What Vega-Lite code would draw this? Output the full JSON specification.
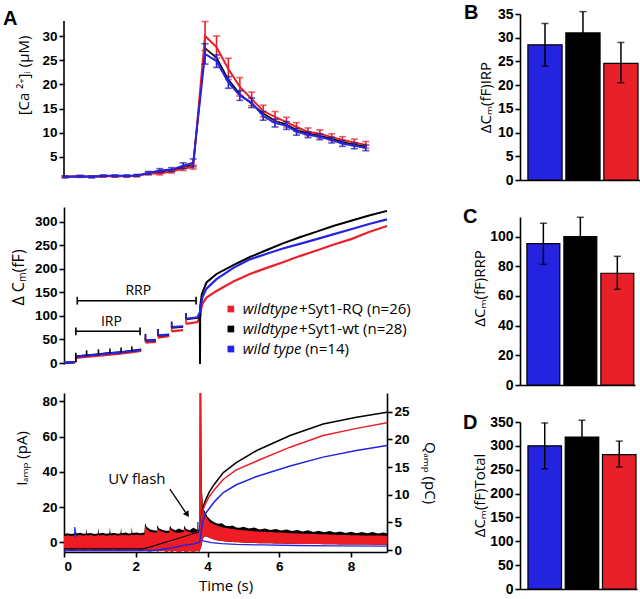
{
"$schema":"https://vega.github.io/schema/vega-lite/v6.json",
"background":"white",
"padding":{"left":3,"top":3,"right":2,"bottom":2},
"config":{
 "view":{"stroke":null},
 "font":"Open Sans",
 "axis":{"domainColor":"black","domainWidth":1.6,"tickColor":"black","tickWidth":1.6,"tickSize":5,"labelColor":"black","labelFont":"Liberation Sans","labelFontWeight":"bold","labelFontSize":13.5,"labelPadding":2,"titleFont":"Open Sans","titleFontWeight":"normal","titleFontSize":15,"titleColor":"black","grid":false},
 "title":{"font":"Liberation Sans","fontSize":20,"fontWeight":"bold","anchor":"start","frame":"group","color":"black","offset":0}
},
"datasets":{
 "ca":[
  {"g":"WT","t":0.03,"v":0.9,"lo":0.7,"hi":1.1},{"g":"WT","t":0.45,"v":1.0,"lo":0.8,"hi":1.2},{"g":"WT","t":0.77,"v":0.9,"lo":0.7,"hi":1.1},{"g":"WT","t":1.09,"v":1.1,"lo":0.9,"hi":1.3},{"g":"WT","t":1.42,"v":1.1,"lo":0.9,"hi":1.3},{"g":"WT","t":1.75,"v":1.1,"lo":0.9,"hi":1.3},{"g":"WT","t":2.03,"v":1.2,"lo":1.0,"hi":1.4},{"g":"WT","t":2.35,"v":1.7,"lo":1.4,"hi":2.0},{"g":"WT","t":2.67,"v":2.2,"lo":1.8,"hi":2.6},{"g":"WT","t":3.0,"v":2.4,"lo":2.0,"hi":2.8},{"g":"WT","t":3.32,"v":3.2,"lo":2.6,"hi":3.8},{"g":"WT","t":3.6,"v":3.8,"lo":3.0,"hi":4.6},{"g":"WT","t":3.93,"v":26.3,"lo":24.2,"hi":28.4},{"g":"WT","t":4.25,"v":24.8,"lo":23.5,"hi":26.1},{"g":"WT","t":4.58,"v":20.4,"lo":19.2,"hi":21.6},{"g":"WT","t":4.9,"v":17.7,"lo":16.7,"hi":18.7},{"g":"WT","t":5.23,"v":16.2,"lo":15.2,"hi":17.2},{"g":"WT","t":5.55,"v":13.5,"lo":12.6,"hi":14.4},{"g":"WT","t":5.88,"v":12.0,"lo":11.2,"hi":12.8},{"g":"WT","t":6.2,"v":11.5,"lo":10.7,"hi":12.3},{"g":"WT","t":6.48,"v":10.2,"lo":9.5,"hi":10.9},{"g":"WT","t":6.8,"v":9.6,"lo":9.0,"hi":10.2},{"g":"WT","t":7.13,"v":9.2,"lo":8.6,"hi":9.8},{"g":"WT","t":7.46,"v":8.5,"lo":7.9,"hi":9.1},{"g":"WT","t":7.76,"v":7.8,"lo":7.2,"hi":8.4},{"g":"WT","t":8.09,"v":7.3,"lo":6.7,"hi":7.9},{"g":"WT","t":8.41,"v":6.9,"lo":6.3,"hi":7.5},
  {"g":"Syt1-RQ","t":0.03,"v":0.9,"lo":0.75,"hi":1.05},{"g":"Syt1-RQ","t":0.45,"v":1.0,"lo":0.85,"hi":1.15},{"g":"Syt1-RQ","t":0.77,"v":0.9,"lo":0.75,"hi":1.05},{"g":"Syt1-RQ","t":1.09,"v":1.0,"lo":0.85,"hi":1.15},{"g":"Syt1-RQ","t":1.42,"v":1.0,"lo":0.85,"hi":1.15},{"g":"Syt1-RQ","t":1.75,"v":1.0,"lo":0.85,"hi":1.15},{"g":"Syt1-RQ","t":2.03,"v":1.1,"lo":0.9,"hi":1.3},{"g":"Syt1-RQ","t":2.35,"v":1.6,"lo":1.3,"hi":1.9},{"g":"Syt1-RQ","t":2.67,"v":1.6,"lo":1.3,"hi":1.9},{"g":"Syt1-RQ","t":3.0,"v":2.0,"lo":1.7,"hi":2.3},{"g":"Syt1-RQ","t":3.32,"v":2.6,"lo":2.2,"hi":3.0},{"g":"Syt1-RQ","t":3.6,"v":2.9,"lo":2.5,"hi":3.3},{"g":"Syt1-RQ","t":3.93,"v":30.0,"lo":27.0,"hi":33.0},{"g":"Syt1-RQ","t":4.25,"v":27.7,"lo":25.4,"hi":30.0},{"g":"Syt1-RQ","t":4.58,"v":23.2,"lo":21.0,"hi":25.4},{"g":"Syt1-RQ","t":4.9,"v":19.5,"lo":17.6,"hi":21.4},{"g":"Syt1-RQ","t":5.23,"v":17.0,"lo":15.6,"hi":18.4},{"g":"Syt1-RQ","t":5.55,"v":14.5,"lo":13.3,"hi":15.7},{"g":"Syt1-RQ","t":5.88,"v":13.3,"lo":12.2,"hi":14.4},{"g":"Syt1-RQ","t":6.2,"v":12.2,"lo":11.2,"hi":13.2},{"g":"Syt1-RQ","t":6.48,"v":11.2,"lo":10.3,"hi":12.1},{"g":"Syt1-RQ","t":6.8,"v":10.2,"lo":9.4,"hi":11.0},{"g":"Syt1-RQ","t":7.13,"v":9.8,"lo":9.0,"hi":10.6},{"g":"Syt1-RQ","t":7.46,"v":9.1,"lo":8.4,"hi":9.8},{"g":"Syt1-RQ","t":7.76,"v":8.5,"lo":7.8,"hi":9.2},{"g":"Syt1-RQ","t":8.09,"v":8.0,"lo":7.3,"hi":8.7},{"g":"Syt1-RQ","t":8.41,"v":7.5,"lo":6.8,"hi":8.2},
  {"g":"Syt1-wt","t":0.03,"v":0.9},{"g":"Syt1-wt","t":0.45,"v":1.0},{"g":"Syt1-wt","t":0.77,"v":0.9},{"g":"Syt1-wt","t":1.09,"v":1.05},{"g":"Syt1-wt","t":1.42,"v":1.05},{"g":"Syt1-wt","t":1.75,"v":1.05},{"g":"Syt1-wt","t":2.03,"v":1.15},{"g":"Syt1-wt","t":2.35,"v":1.6},{"g":"Syt1-wt","t":2.67,"v":2.0},{"g":"Syt1-wt","t":3.0,"v":2.2},{"g":"Syt1-wt","t":3.32,"v":2.9},{"g":"Syt1-wt","t":3.6,"v":3.4},{"g":"Syt1-wt","t":3.93,"v":27.5},{"g":"Syt1-wt","t":4.25,"v":25.5},{"g":"Syt1-wt","t":4.58,"v":21.0},{"g":"Syt1-wt","t":4.9,"v":18.0},{"g":"Syt1-wt","t":5.23,"v":16.0},{"g":"Syt1-wt","t":5.55,"v":14.0},{"g":"Syt1-wt","t":5.88,"v":12.5},{"g":"Syt1-wt","t":6.2,"v":11.7},{"g":"Syt1-wt","t":6.48,"v":10.6},{"g":"Syt1-wt","t":6.8,"v":9.9},{"g":"Syt1-wt","t":7.13,"v":9.4},{"g":"Syt1-wt","t":7.46,"v":8.8},{"g":"Syt1-wt","t":7.76,"v":8.1},{"g":"Syt1-wt","t":8.09,"v":7.6},{"g":"Syt1-wt","t":8.41,"v":7.2}
 ],
 "cm":[
  {"g":"Syt1-RQ","s":0,"t":0,"v":0.5},{"g":"Syt1-RQ","s":0,"t":0.3,"v":1.5},
  {"g":"Syt1-RQ","s":1,"t":0.33,"v":11},{"g":"Syt1-RQ","s":1,"t":0.6,"v":13},{"g":"Syt1-RQ","s":1,"t":0.9,"v":15},{"g":"Syt1-RQ","s":1,"t":1.2,"v":17},{"g":"Syt1-RQ","s":1,"t":1.5,"v":19.5},{"g":"Syt1-RQ","s":1,"t":1.8,"v":22},{"g":"Syt1-RQ","s":1,"t":2.15,"v":25.5},
  {"g":"Syt1-RQ","s":2,"t":2.27,"v":43},{"g":"Syt1-RQ","s":2,"t":2.56,"v":45},
  {"g":"Syt1-RQ","s":3,"t":2.62,"v":54},{"g":"Syt1-RQ","s":3,"t":2.93,"v":57},
  {"g":"Syt1-RQ","s":4,"t":3.0,"v":67},{"g":"Syt1-RQ","s":4,"t":3.32,"v":70},
  {"g":"Syt1-RQ","s":5,"t":3.4,"v":83},{"g":"Syt1-RQ","s":5,"t":3.72,"v":87},{"g":"Syt1-RQ","s":5,"t":3.8,"v":100},{"g":"Syt1-RQ","s":5,"t":3.82,"v":115},{"g":"Syt1-RQ","s":5,"t":3.86,"v":126},{"g":"Syt1-RQ","s":5,"t":3.97,"v":139},{"g":"Syt1-RQ","s":5,"t":4.25,"v":153},{"g":"Syt1-RQ","s":5,"t":4.72,"v":173},{"g":"Syt1-RQ","s":5,"t":5.18,"v":189},{"g":"Syt1-RQ","s":5,"t":5.65,"v":202},{"g":"Syt1-RQ","s":5,"t":6.1,"v":214},{"g":"Syt1-RQ","s":5,"t":6.57,"v":227},{"g":"Syt1-RQ","s":5,"t":7.04,"v":239},{"g":"Syt1-RQ","s":5,"t":7.5,"v":251},{"g":"Syt1-RQ","s":5,"t":8.0,"v":263},{"g":"Syt1-RQ","s":5,"t":8.5,"v":278},{"g":"Syt1-RQ","s":5,"t":9.0,"v":291},
  {"g":"Syt1-wt","s":0,"t":0,"v":0},{"g":"Syt1-wt","s":0,"t":0.3,"v":1.5},
  {"g":"Syt1-wt","s":1,"t":0.33,"v":14},{"g":"Syt1-wt","s":1,"t":0.6,"v":16},{"g":"Syt1-wt","s":1,"t":0.9,"v":18},{"g":"Syt1-wt","s":1,"t":1.2,"v":20.5},{"g":"Syt1-wt","s":1,"t":1.5,"v":22.5},{"g":"Syt1-wt","s":1,"t":1.8,"v":25},{"g":"Syt1-wt","s":1,"t":2.15,"v":28.5},
  {"g":"Syt1-wt","s":2,"t":2.27,"v":47},{"g":"Syt1-wt","s":2,"t":2.56,"v":48.5},
  {"g":"Syt1-wt","s":3,"t":2.62,"v":58},{"g":"Syt1-wt","s":3,"t":2.93,"v":60},
  {"g":"Syt1-wt","s":4,"t":3.0,"v":75},{"g":"Syt1-wt","s":4,"t":3.32,"v":77},
  {"g":"Syt1-wt","s":5,"t":3.4,"v":93},{"g":"Syt1-wt","s":5,"t":3.72,"v":96},{"g":"Syt1-wt","s":5,"t":3.785,"v":96},{"g":"Syt1-wt","s":5,"t":3.79,"v":-2},{"g":"Syt1-wt","s":5,"t":3.795,"v":120},{"g":"Syt1-wt","s":5,"t":3.84,"v":146},{"g":"Syt1-wt","s":5,"t":3.97,"v":171},{"g":"Syt1-wt","s":5,"t":4.25,"v":189},{"g":"Syt1-wt","s":5,"t":4.72,"v":208},{"g":"Syt1-wt","s":5,"t":5.18,"v":225},{"g":"Syt1-wt","s":5,"t":5.65,"v":240},{"g":"Syt1-wt","s":5,"t":6.1,"v":254},{"g":"Syt1-wt","s":5,"t":6.57,"v":267},{"g":"Syt1-wt","s":5,"t":7.04,"v":279},{"g":"Syt1-wt","s":5,"t":7.5,"v":291},{"g":"Syt1-wt","s":5,"t":8.0,"v":302},{"g":"Syt1-wt","s":5,"t":8.5,"v":313},{"g":"Syt1-wt","s":5,"t":9.0,"v":323},
  {"g":"WT","s":0,"t":0,"v":1},{"g":"WT","s":0,"t":0.3,"v":2},
  {"g":"WT","s":1,"t":0.33,"v":13.5},{"g":"WT","s":1,"t":0.6,"v":15.5},{"g":"WT","s":1,"t":0.9,"v":17.5},{"g":"WT","s":1,"t":1.2,"v":20},{"g":"WT","s":1,"t":1.5,"v":22},{"g":"WT","s":1,"t":1.8,"v":24.5},{"g":"WT","s":1,"t":2.15,"v":28},
  {"g":"WT","s":2,"t":2.27,"v":47.5},{"g":"WT","s":2,"t":2.56,"v":49},
  {"g":"WT","s":3,"t":2.62,"v":58.5},{"g":"WT","s":3,"t":2.93,"v":60.5},
  {"g":"WT","s":4,"t":3.0,"v":76},{"g":"WT","s":4,"t":3.32,"v":78},
  {"g":"WT","s":5,"t":3.4,"v":94},{"g":"WT","s":5,"t":3.72,"v":97},{"g":"WT","s":5,"t":3.8,"v":110},{"g":"WT","s":5,"t":3.82,"v":125},{"g":"WT","s":5,"t":3.86,"v":140},{"g":"WT","s":5,"t":3.97,"v":158},{"g":"WT","s":5,"t":4.25,"v":178},{"g":"WT","s":5,"t":4.72,"v":202},{"g":"WT","s":5,"t":5.18,"v":220},{"g":"WT","s":5,"t":5.65,"v":232},{"g":"WT","s":5,"t":6.1,"v":243},{"g":"WT","s":5,"t":6.57,"v":253},{"g":"WT","s":5,"t":7.04,"v":263},{"g":"WT","s":5,"t":7.5,"v":273},{"g":"WT","s":5,"t":8.0,"v":284},{"g":"WT","s":5,"t":8.5,"v":295},{"g":"WT","s":5,"t":9.0,"v":305}
 ],
 "cmt":[
  {"g":"Syt1-RQ","t":0.33,"v0":1,"v1":16},{"g":"Syt1-RQ","t":2.27,"v0":43,"v1":56},{"g":"Syt1-RQ","t":2.62,"v0":54,"v1":67},{"g":"Syt1-RQ","t":3.0,"v0":67,"v1":80},{"g":"Syt1-RQ","t":3.4,"v0":83,"v1":97},
  {"g":"Syt1-wt","t":0.33,"v0":1.5,"v1":22},{"g":"Syt1-wt","t":0.63,"v0":15.5,"v1":27},{"g":"Syt1-wt","t":0.96,"v0":17.5,"v1":29},{"g":"Syt1-wt","t":1.28,"v0":20.5,"v1":31},{"g":"Syt1-wt","t":1.59,"v0":22.5,"v1":33},{"g":"Syt1-wt","t":1.89,"v0":25,"v1":35},{"g":"Syt1-wt","t":2.27,"v0":47,"v1":62},{"g":"Syt1-wt","t":2.62,"v0":58,"v1":72},{"g":"Syt1-wt","t":3.0,"v0":75,"v1":88},{"g":"Syt1-wt","t":3.4,"v0":93,"v1":106},
  {"g":"WT","t":2.27,"v0":47.5,"v1":60},{"g":"WT","t":2.62,"v0":58.5,"v1":70},{"g":"WT","t":3.0,"v0":76,"v1":86},{"g":"WT","t":3.4,"v0":94,"v1":104}
 ],
 "cur":[
  {"t":0,"lo":-4,"hi":3.5,"top":4.6},{"t":0.1,"lo":-3.8,"hi":4,"top":5.1},{"t":0.2,"lo":-4.2,"hi":3.6,"top":4.7},{"t":0.315,"lo":-4,"hi":4,"top":5.2},{"t":0.33,"lo":-4,"hi":4.4,"top":8.4},{"t":0.345,"lo":-4,"hi":3.8,"top":5},{"t":0.45,"lo":-3.6,"hi":4.2,"top":5.4},{"t":0.55,"lo":-4.1,"hi":3.7,"top":4.8},{"t":0.615,"lo":-4,"hi":4,"top":5},{"t":0.63,"lo":-4,"hi":4.4,"top":8},{"t":0.645,"lo":-4,"hi":3.9,"top":5},{"t":0.75,"lo":-3.7,"hi":4.1,"top":5.3},{"t":0.85,"lo":-4.2,"hi":3.6,"top":4.7},{"t":0.945,"lo":-4,"hi":4,"top":5},{"t":0.96,"lo":-4,"hi":4.5,"top":8.2},{"t":0.975,"lo":-4,"hi":3.8,"top":5},{"t":1.08,"lo":-3.9,"hi":4.2,"top":5.4},{"t":1.18,"lo":-4.1,"hi":3.7,"top":4.8},{"t":1.265,"lo":-4,"hi":4,"top":5.1},{"t":1.28,"lo":-4,"hi":4.4,"top":8.6},{"t":1.295,"lo":-4,"hi":3.9,"top":5.1},{"t":1.4,"lo":-3.8,"hi":4.1,"top":5.3},{"t":1.5,"lo":-4.2,"hi":3.8,"top":4.9},{"t":1.575,"lo":-4,"hi":4,"top":5.1},{"t":1.59,"lo":-4,"hi":4.5,"top":8.3},{"t":1.605,"lo":-4,"hi":4,"top":5.2},{"t":1.72,"lo":-3.9,"hi":4.2,"top":5.5},{"t":1.8,"lo":-4.1,"hi":3.9,"top":5},{"t":1.875,"lo":-4,"hi":4.1,"top":5.2},{"t":1.89,"lo":-4,"hi":4.6,"top":8.8},{"t":1.905,"lo":-4,"hi":4,"top":5.3},{"t":2.02,"lo":-3.8,"hi":4.3,"top":5.6},{"t":2.12,"lo":-4.2,"hi":4,"top":5.2},{"t":2.24,"lo":-4,"hi":4.2,"top":5.5},{"t":2.26,"lo":-4.6,"hi":9.5,"top":11},{"t":2.3,"lo":-5,"hi":7.5,"top":8.8},{"t":2.4,"lo":-5.2,"hi":6,"top":7.2},{"t":2.5,"lo":-4.8,"hi":5.5,"top":6.8},{"t":2.585,"lo":-5,"hi":5.4,"top":6.6},{"t":2.6,"lo":-5.5,"hi":8.5,"top":10},{"t":2.64,"lo":-5,"hi":6.8,"top":8},{"t":2.75,"lo":-4.6,"hi":5.8,"top":7},{"t":2.85,"lo":-5.3,"hi":5.2,"top":6.5},{"t":2.935,"lo":-5,"hi":5.4,"top":6.6},{"t":2.95,"lo":-5,"hi":8.2,"top":9.6},{"t":3.0,"lo":-5.4,"hi":6.6,"top":7.8},{"t":3.1,"lo":-4.8,"hi":5.6,"top":6.8},{"t":3.2,"lo":-5.6,"hi":5.3,"top":7.8},{"t":3.3,"lo":-5,"hi":5.8,"top":7},{"t":3.335,"lo":-5,"hi":5.6,"top":6.8},{"t":3.35,"lo":-5.2,"hi":8,"top":9.5},{"t":3.4,"lo":-5.5,"hi":6.4,"top":7.6},{"t":3.5,"lo":-4.9,"hi":5.7,"top":6.9},{"t":3.6,"lo":-5.4,"hi":5.4,"top":8.3},{"t":3.7,"lo":-5,"hi":6,"top":7.2},{"t":3.77,"lo":-5.2,"hi":6.2,"top":7.4},
  {"t":3.78,"lo":-5,"hi":95,"top":95},{"t":3.82,"lo":-3,"hi":95,"top":95},{"t":3.84,"lo":-1,"hi":30,"top":31},{"t":3.87,"lo":2,"hi":20,"top":21.5},{"t":3.9,"lo":3,"hi":17,"top":18.5},{"t":3.95,"lo":3.5,"hi":15,"top":16.5},{"t":4.0,"lo":3,"hi":13,"top":14.5},{"t":4.1,"lo":2.2,"hi":11,"top":12.5},{"t":4.2,"lo":1.5,"hi":10,"top":11.3},{"t":4.3,"lo":1,"hi":9.2,"top":10.5},{"t":4.4,"lo":0.8,"hi":8.6,"top":10.8},{"t":4.5,"lo":0.5,"hi":8.2,"top":9.4},{"t":4.6,"lo":0.3,"hi":7.8,"top":9.1},{"t":4.7,"lo":0.2,"hi":7.5,"top":9.6},{"t":4.8,"lo":0,"hi":7.2,"top":8.4},{"t":4.9,"lo":0,"hi":7,"top":8.3},{"t":5.0,"lo":-0.2,"hi":6.8,"top":8.8},{"t":5.15,"lo":-0.3,"hi":6.6,"top":7.8},{"t":5.3,"lo":-0.4,"hi":6.3,"top":8.4},{"t":5.45,"lo":-0.5,"hi":6.1,"top":7.3},{"t":5.6,"lo":-0.5,"hi":5.9,"top":7.9},{"t":5.75,"lo":-0.6,"hi":5.8,"top":7},{"t":5.9,"lo":-0.7,"hi":5.6,"top":7.6},{"t":6.05,"lo":-0.7,"hi":5.5,"top":6.7},{"t":6.2,"lo":-0.8,"hi":5.3,"top":7.3},{"t":6.35,"lo":-0.8,"hi":5.2,"top":6.4},{"t":6.5,"lo":-0.9,"hi":5,"top":7},{"t":6.65,"lo":-0.9,"hi":4.9,"top":6.1},{"t":6.8,"lo":-1,"hi":4.8,"top":6.8},{"t":6.95,"lo":-1,"hi":4.7,"top":5.9},{"t":7.1,"lo":-1,"hi":4.6,"top":6.6},{"t":7.25,"lo":-1.1,"hi":4.5,"top":5.7},{"t":7.4,"lo":-1.1,"hi":4.4,"top":6.4},{"t":7.55,"lo":-1.1,"hi":4.3,"top":5.5},{"t":7.7,"lo":-1.2,"hi":4.2,"top":6.2},{"t":7.85,"lo":-1.2,"hi":4.1,"top":5.3},{"t":8.0,"lo":-1.2,"hi":4,"top":6},{"t":8.15,"lo":-1.3,"hi":4,"top":5.2},{"t":8.3,"lo":-1.3,"hi":3.9,"top":5.9},{"t":8.45,"lo":-1.3,"hi":3.9,"top":5.1},{"t":8.6,"lo":-1.4,"hi":3.8,"top":5.8},{"t":8.75,"lo":-1.4,"hi":3.8,"top":5},{"t":8.9,"lo":-1.4,"hi":3.7,"top":5.6},{"t":9.0,"lo":-1.4,"hi":3.7,"top":5}
 ],
 "curb":[{"t":3.85,"v":1},{"t":3.95,"v":0.5},{"t":4.1,"v":-0.2},{"t":4.4,"v":-0.8},{"t":4.8,"v":-1.2},{"t":5.5,"v":-1.5},{"t":6.5,"v":-1.8},{"t":7.5,"v":-2},{"t":9,"v":-2.2}],
 "spk":[{"t":0.3,"lo":3,"hi":8.7},{"t":3.73,"lo":4,"hi":11.5}],
 "q":[
  {"g":"Syt1-wt","t":0,"q":0.2},{"g":"Syt1-wt","t":2.2,"q":0.2},{"g":"Syt1-wt","t":2.4,"q":0.5},{"g":"Syt1-wt","t":2.6,"q":0.9},{"g":"Syt1-wt","t":2.8,"q":1.3},{"g":"Syt1-wt","t":3.0,"q":1.7},{"g":"Syt1-wt","t":3.2,"q":2.1},{"g":"Syt1-wt","t":3.4,"q":2.5},{"g":"Syt1-wt","t":3.6,"q":2.9},{"g":"Syt1-wt","t":3.78,"q":3.2},{"g":"Syt1-wt","t":3.82,"q":5.5},{"g":"Syt1-wt","t":3.86,"q":7.5},{"g":"Syt1-wt","t":3.93,"q":8.8},{"g":"Syt1-wt","t":4.05,"q":10.5},{"g":"Syt1-wt","t":4.2,"q":12},{"g":"Syt1-wt","t":4.44,"q":14},{"g":"Syt1-wt","t":4.8,"q":15.8},{"g":"Syt1-wt","t":5.37,"q":18},{"g":"Syt1-wt","t":6.3,"q":20.7},{"g":"Syt1-wt","t":7.22,"q":22.8},{"g":"Syt1-wt","t":8.15,"q":24},{"g":"Syt1-wt","t":9,"q":24.9},
  {"g":"Syt1-RQ","t":0,"q":-0.1},{"g":"Syt1-RQ","t":2.2,"q":-0.1},{"g":"Syt1-RQ","t":2.4,"q":0.3},{"g":"Syt1-RQ","t":2.6,"q":0.7},{"g":"Syt1-RQ","t":2.8,"q":1.1},{"g":"Syt1-RQ","t":3.0,"q":1.5},{"g":"Syt1-RQ","t":3.2,"q":1.9},{"g":"Syt1-RQ","t":3.4,"q":2.3},{"g":"Syt1-RQ","t":3.6,"q":2.7},{"g":"Syt1-RQ","t":3.78,"q":3.0},{"g":"Syt1-RQ","t":3.82,"q":5.2},{"g":"Syt1-RQ","t":3.86,"q":7},{"g":"Syt1-RQ","t":3.93,"q":8.2},{"g":"Syt1-RQ","t":4.05,"q":9.7},{"g":"Syt1-RQ","t":4.2,"q":11},{"g":"Syt1-RQ","t":4.44,"q":12.8},{"g":"Syt1-RQ","t":4.8,"q":14.5},{"g":"Syt1-RQ","t":5.37,"q":16.1},{"g":"Syt1-RQ","t":6.3,"q":18.6},{"g":"Syt1-RQ","t":7.22,"q":20.7},{"g":"Syt1-RQ","t":8.15,"q":22},{"g":"Syt1-RQ","t":9,"q":23},
  {"g":"WT","t":0,"q":-0.1},{"g":"WT","t":2.5,"q":-0.1},{"g":"WT","t":2.8,"q":0.2},{"g":"WT","t":3.1,"q":0.5},{"g":"WT","t":3.4,"q":0.9},{"g":"WT","t":3.6,"q":1.1},{"g":"WT","t":3.78,"q":1.4},{"g":"WT","t":3.82,"q":3},{"g":"WT","t":3.86,"q":5},{"g":"WT","t":3.93,"q":6.5},{"g":"WT","t":4.07,"q":7.7},{"g":"WT","t":4.2,"q":8.8},{"g":"WT","t":4.44,"q":10.4},{"g":"WT","t":4.8,"q":11.8},{"g":"WT","t":5.37,"q":13.3},{"g":"WT","t":6.3,"q":15.2},{"g":"WT","t":7.22,"q":16.8},{"g":"WT","t":8.15,"q":18},{"g":"WT","t":9,"q":18.9}
 ],
 "bars":[
  {"p":"B","g":"WT","m":28.5,"lo":24,"hi":33},{"p":"B","g":"Syt1-wt","m":31,"lo":26.5,"hi":35.5},{"p":"B","g":"Syt1-RQ","m":24.6,"lo":20.5,"hi":29},
  {"p":"C","g":"WT","m":95.3,"lo":81.3,"hi":109},{"p":"C","g":"Syt1-wt","m":100,"lo":87,"hi":113},{"p":"C","g":"Syt1-RQ","m":75.3,"lo":64.5,"hi":86.7},
  {"p":"D","g":"WT","m":300,"lo":252,"hi":348},{"p":"D","g":"Syt1-wt","m":318.6,"lo":283.6,"hi":353.6},{"p":"D","g":"Syt1-RQ","m":281.5,"lo":255.6,"hi":310}
 ]
},
"spacing":26,
"hconcat":[
 {"spacing":29,"bounds":"flush","vconcat":[
  {"width":323,"height":164,
   "title":{"text":"A","dx":-61,"offset":-15},
   "layer":[
    {"data":{"values":[{}]},"mark":{"type":"rule","color":"black","strokeWidth":1.6},
     "encoding":{"x":{"datum":0,"type":"quantitative","scale":{"domain":[0,9],"nice":false,"zero":false},"axis":null},"y":{"datum":0.66,"type":"quantitative","scale":{"domain":[0.66,34.55],"nice":false,"zero":false},"axis":{"values":[5,10,15,20,25,30],"domain":false,"title":"[Ca ²⁺]ᵢ (µM)","titleY":61,"titlePadding":10}},"y2":{"datum":33.1}}},
    {"data":{"name":"ca"},"transform":[{"filter":"datum.g === 'Syt1-wt'"}],"mark":{"type":"line","color":"black","strokeWidth":1.6},
     "encoding":{"x":{"field":"t","type":"quantitative","scale":{"domain":[0,9],"nice":false,"zero":false},"axis":null},"y":{"field":"v","type":"quantitative","scale":{"domain":[0.66,34.55],"nice":false,"zero":false},"axis":{"values":[5,10,15,20,25,30],"domain":false,"title":"[Ca ²⁺]ᵢ (µM)","titleY":61,"titlePadding":10}}}},
    {"data":{"name":"ca"},"transform":[{"filter":"datum.g === 'Syt1-RQ'"}],"mark":{"type":"rule","color":"#e8202a","strokeWidth":1.6},
     "encoding":{"x":{"field":"t","type":"quantitative","scale":{"domain":[0,9],"nice":false,"zero":false},"axis":null},"y":{"field":"lo","type":"quantitative","scale":{"domain":[0.66,34.55],"nice":false,"zero":false},"axis":{"values":[5,10,15,20,25,30],"domain":false,"title":"[Ca ²⁺]ᵢ (µM)","titleY":61,"titlePadding":10}},"y2":{"field":"hi"}}},
    {"data":{"name":"ca"},"transform":[{"filter":"datum.g === 'Syt1-RQ'"}],"mark":{"type":"tick","orient":"horizontal","color":"#e8202a","size":7,"thickness":1.6},
     "encoding":{"x":{"field":"t","type":"quantitative","scale":{"domain":[0,9],"nice":false,"zero":false},"axis":null},"y":{"field":"hi","type":"quantitative","scale":{"domain":[0.66,34.55],"nice":false,"zero":false},"axis":{"values":[5,10,15,20,25,30],"domain":false,"title":"[Ca ²⁺]ᵢ (µM)","titleY":61,"titlePadding":10}}}},
    {"data":{"name":"ca"},"transform":[{"filter":"datum.g === 'Syt1-RQ'"}],"mark":{"type":"tick","orient":"horizontal","color":"#e8202a","size":7,"thickness":1.6},
     "encoding":{"x":{"field":"t","type":"quantitative","scale":{"domain":[0,9],"nice":false,"zero":false},"axis":null},"y":{"field":"lo","type":"quantitative","scale":{"domain":[0.66,34.55],"nice":false,"zero":false},"axis":{"values":[5,10,15,20,25,30],"domain":false,"title":"[Ca ²⁺]ᵢ (µM)","titleY":61,"titlePadding":10}}}},
    {"data":{"name":"ca"},"transform":[{"filter":"datum.g === 'Syt1-RQ'"}],"mark":{"type":"line","color":"#e8202a","strokeWidth":2},
     "encoding":{"x":{"field":"t","type":"quantitative","scale":{"domain":[0,9],"nice":false,"zero":false},"axis":null},"y":{"field":"v","type":"quantitative","scale":{"domain":[0.66,34.55],"nice":false,"zero":false},"axis":{"values":[5,10,15,20,25,30],"domain":false,"title":"[Ca ²⁺]ᵢ (µM)","titleY":61,"titlePadding":10}}}},
    {"data":{"name":"ca"},"transform":[{"filter":"datum.g === 'WT'"}],"mark":{"type":"rule","color":"#2323e0","strokeWidth":1.6},
     "encoding":{"x":{"field":"t","type":"quantitative","scale":{"domain":[0,9],"nice":false,"zero":false},"axis":null},"y":{"field":"lo","type":"quantitative","scale":{"domain":[0.66,34.55],"nice":false,"zero":false},"axis":{"values":[5,10,15,20,25,30],"domain":false,"title":"[Ca ²⁺]ᵢ (µM)","titleY":61,"titlePadding":10}},"y2":{"field":"hi"}}},
    {"data":{"name":"ca"},"transform":[{"filter":"datum.g === 'WT'"}],"mark":{"type":"tick","orient":"horizontal","color":"#1a1a9a","size":7,"thickness":1.6},
     "encoding":{"x":{"field":"t","type":"quantitative","scale":{"domain":[0,9],"nice":false,"zero":false},"axis":null},"y":{"field":"hi","type":"quantitative","scale":{"domain":[0.66,34.55],"nice":false,"zero":false},"axis":{"values":[5,10,15,20,25,30],"domain":false,"title":"[Ca ²⁺]ᵢ (µM)","titleY":61,"titlePadding":10}}}},
    {"data":{"name":"ca"},"transform":[{"filter":"datum.g === 'WT'"}],"mark":{"type":"tick","orient":"horizontal","color":"#1a1a9a","size":7,"thickness":1.6},
     "encoding":{"x":{"field":"t","type":"quantitative","scale":{"domain":[0,9],"nice":false,"zero":false},"axis":null},"y":{"field":"lo","type":"quantitative","scale":{"domain":[0.66,34.55],"nice":false,"zero":false},"axis":{"values":[5,10,15,20,25,30],"domain":false,"title":"[Ca ²⁺]ᵢ (µM)","titleY":61,"titlePadding":10}}}},
    {"data":{"name":"ca"},"transform":[{"filter":"datum.g === 'WT'"}],"mark":{"type":"line","color":"#2323e0","strokeWidth":2},
     "encoding":{"x":{"field":"t","type":"quantitative","scale":{"domain":[0,9],"nice":false,"zero":false},"axis":null},"y":{"field":"v","type":"quantitative","scale":{"domain":[0.66,34.55],"nice":false,"zero":false},"axis":{"values":[5,10,15,20,25,30],"domain":false,"title":"[Ca ²⁺]ᵢ (µM)","titleY":61,"titlePadding":10}}}}
   ]},
  {"width":323,"height":157,
   "layer":[
    {"data":{"name":"cm"},"transform":[{"filter":"datum.g === 'Syt1-RQ'"}],"mark":{"type":"line","color":"#e8202a","strokeWidth":2.2},
     "encoding":{"x":{"field":"t","type":"quantitative","scale":{"domain":[0,9],"nice":false,"zero":false},"axis":null},"y":{"field":"v","type":"quantitative","scale":{"domain":[-2.1,331.2],"nice":false,"zero":false},"axis":{"values":[0,50,100,150,200,250,300],"title":"Δ Cₘ(fF)","titleY":70,"titlePadding":8,"titleFontSize":16}},"detail":{"field":"s"}}},
    {"data":{"name":"cm"},"transform":[{"filter":"datum.g === 'Syt1-wt'"}],"mark":{"type":"line","color":"black","strokeWidth":2},
     "encoding":{"x":{"field":"t","type":"quantitative","scale":{"domain":[0,9],"nice":false,"zero":false},"axis":null},"y":{"field":"v","type":"quantitative","scale":{"domain":[-2.1,331.2],"nice":false,"zero":false},"axis":{"values":[0,50,100,150,200,250,300],"title":"Δ Cₘ(fF)","titleY":70,"titlePadding":8,"titleFontSize":16}},"detail":{"field":"s"}}},
    {"data":{"name":"cm"},"transform":[{"filter":"datum.g === 'WT'"}],"mark":{"type":"line","color":"#2323e0","strokeWidth":2.2},
     "encoding":{"x":{"field":"t","type":"quantitative","scale":{"domain":[0,9],"nice":false,"zero":false},"axis":null},"y":{"field":"v","type":"quantitative","scale":{"domain":[-2.1,331.2],"nice":false,"zero":false},"axis":{"values":[0,50,100,150,200,250,300],"title":"Δ Cₘ(fF)","titleY":70,"titlePadding":8,"titleFontSize":16}},"detail":{"field":"s"}}},
    {"data":{"name":"cmt"},"mark":{"type":"rule","strokeWidth":1.6},
     "encoding":{"x":{"field":"t","type":"quantitative","scale":{"domain":[0,9],"nice":false,"zero":false},"axis":null},"y":{"field":"v0","type":"quantitative","scale":{"domain":[-2.1,331.2],"nice":false,"zero":false},"axis":{"values":[0,50,100,150,200,250,300],"title":"Δ Cₘ(fF)","titleY":70,"titlePadding":8,"titleFontSize":16}},"y2":{"field":"v1"},"color":{"field":"g","type":"nominal","scale":{"domain":["WT","Syt1-wt","Syt1-RQ"],"range":["#2323e0","#000000","#e8202a"]},"legend":null}}},
    {"data":{"values":[{}]},"mark":{"type":"rule","color":"black","strokeWidth":1.6},"encoding":{"x":{"datum":0.37,"type":"quantitative","scale":{"domain":[0,9],"nice":false,"zero":false},"axis":null},"x2":{"datum":3.68},"y":{"datum":132.3,"type":"quantitative","scale":{"domain":[-2.1,331.2],"nice":false,"zero":false},"axis":{"values":[0,50,100,150,200,250,300],"title":"Δ Cₘ(fF)","titleY":70,"titlePadding":8,"titleFontSize":16}}}},
    {"data":{"values":[{}]},"mark":{"type":"rule","color":"black","strokeWidth":1.6},"encoding":{"x":{"datum":0.37,"type":"quantitative","scale":{"domain":[0,9],"nice":false,"zero":false},"axis":null},"y":{"datum":124,"type":"quantitative","scale":{"domain":[-2.1,331.2],"nice":false,"zero":false},"axis":{"values":[0,50,100,150,200,250,300],"title":"Δ Cₘ(fF)","titleY":70,"titlePadding":8,"titleFontSize":16}},"y2":{"datum":140.6}}},
    {"data":{"values":[{}]},"mark":{"type":"rule","color":"black","strokeWidth":1.6},"encoding":{"x":{"datum":3.68,"type":"quantitative","scale":{"domain":[0,9],"nice":false,"zero":false},"axis":null},"y":{"datum":124,"type":"quantitative","scale":{"domain":[-2.1,331.2],"nice":false,"zero":false},"axis":{"values":[0,50,100,150,200,250,300],"title":"Δ Cₘ(fF)","titleY":70,"titlePadding":8,"titleFontSize":16}},"y2":{"datum":140.6}}},
    {"data":{"values":[{}]},"mark":{"type":"rule","color":"black","strokeWidth":1.6},"encoding":{"x":{"datum":0.33,"type":"quantitative","scale":{"domain":[0,9],"nice":false,"zero":false},"axis":null},"x2":{"datum":2.12},"y":{"datum":67.3,"type":"quantitative","scale":{"domain":[-2.1,331.2],"nice":false,"zero":false},"axis":{"values":[0,50,100,150,200,250,300],"title":"Δ Cₘ(fF)","titleY":70,"titlePadding":8,"titleFontSize":16}}}},
    {"data":{"values":[{}]},"mark":{"type":"rule","color":"black","strokeWidth":1.6},"encoding":{"x":{"datum":0.33,"type":"quantitative","scale":{"domain":[0,9],"nice":false,"zero":false},"axis":null},"y":{"datum":59,"type":"quantitative","scale":{"domain":[-2.1,331.2],"nice":false,"zero":false},"axis":{"values":[0,50,100,150,200,250,300],"title":"Δ Cₘ(fF)","titleY":70,"titlePadding":8,"titleFontSize":16}},"y2":{"datum":75.6}}},
    {"data":{"values":[{}]},"mark":{"type":"rule","color":"black","strokeWidth":1.6},"encoding":{"x":{"datum":2.12,"type":"quantitative","scale":{"domain":[0,9],"nice":false,"zero":false},"axis":null},"y":{"datum":59,"type":"quantitative","scale":{"domain":[-2.1,331.2],"nice":false,"zero":false},"axis":{"values":[0,50,100,150,200,250,300],"title":"Δ Cₘ(fF)","titleY":70,"titlePadding":8,"titleFontSize":16}},"y2":{"datum":75.6}}},
    {"data":{"values":[{}]},"mark":{"type":"text","text":"RRP","fontSize":14,"font":"Open Sans","color":"black","align":"center","baseline":"middle"},"encoding":{"x":{"datum":2.07,"type":"quantitative","scale":{"domain":[0,9],"nice":false,"zero":false},"axis":null},"y":{"datum":153.5,"type":"quantitative","scale":{"domain":[-2.1,331.2],"nice":false,"zero":false},"axis":{"values":[0,50,100,150,200,250,300],"title":"Δ Cₘ(fF)","titleY":70,"titlePadding":8,"titleFontSize":16}}}},
    {"data":{"values":[{}]},"mark":{"type":"text","text":"IRP","fontSize":14,"font":"Open Sans","color":"black","align":"center","baseline":"middle"},"encoding":{"x":{"datum":1.32,"type":"quantitative","scale":{"domain":[0,9],"nice":false,"zero":false},"axis":null},"y":{"datum":87,"type":"quantitative","scale":{"domain":[-2.1,331.2],"nice":false,"zero":false},"axis":{"values":[0,50,100,150,200,250,300],"title":"Δ Cₘ(fF)","titleY":70,"titlePadding":8,"titleFontSize":16}}}},
    {"data":{"values":[{}]},"mark":{"type":"square","color":"#e8202a","opacity":1,"size":45},"encoding":{"x":{"datum":4.65,"type":"quantitative","scale":{"domain":[0,9],"nice":false,"zero":false},"axis":null},"y":{"datum":114.6,"type":"quantitative","scale":{"domain":[-2.1,331.2],"nice":false,"zero":false},"axis":{"values":[0,50,100,150,200,250,300],"title":"Δ Cₘ(fF)","titleY":70,"titlePadding":8,"titleFontSize":16}}}},
    {"data":{"values":[{}]},"mark":{"type":"square","color":"black","opacity":1,"size":45},"encoding":{"x":{"datum":4.65,"type":"quantitative","scale":{"domain":[0,9],"nice":false,"zero":false},"axis":null},"y":{"datum":72.2,"type":"quantitative","scale":{"domain":[-2.1,331.2],"nice":false,"zero":false},"axis":{"values":[0,50,100,150,200,250,300],"title":"Δ Cₘ(fF)","titleY":70,"titlePadding":8,"titleFontSize":16}}}},
    {"data":{"values":[{}]},"mark":{"type":"square","color":"#2323e0","opacity":1,"size":45},"encoding":{"x":{"datum":4.65,"type":"quantitative","scale":{"domain":[0,9],"nice":false,"zero":false},"axis":null},"y":{"datum":29.7,"type":"quantitative","scale":{"domain":[-2.1,331.2],"nice":false,"zero":false},"axis":{"values":[0,50,100,150,200,250,300],"title":"Δ Cₘ(fF)","titleY":70,"titlePadding":8,"titleFontSize":16}}}},
    {"data":{"values":[{}]},"mark":{"type":"text","text":"wildtype","fontStyle":"italic","fontSize":15,"font":"Open Sans","color":"black","align":"left","baseline":"middle"},"encoding":{"x":{"datum":4.98,"type":"quantitative","scale":{"domain":[0,9],"nice":false,"zero":false},"axis":null},"y":{"datum":114.6,"type":"quantitative","scale":{"domain":[-2.1,331.2],"nice":false,"zero":false},"axis":{"values":[0,50,100,150,200,250,300],"title":"Δ Cₘ(fF)","titleY":70,"titlePadding":8,"titleFontSize":16}}}},
    {"data":{"values":[{}]},"mark":{"type":"text","text":"+Syt1-RQ (n=26)","fontSize":15,"font":"Open Sans","color":"black","align":"left","baseline":"middle"},"encoding":{"x":{"datum":6.55,"type":"quantitative","scale":{"domain":[0,9],"nice":false,"zero":false},"axis":null},"y":{"datum":114.6,"type":"quantitative","scale":{"domain":[-2.1,331.2],"nice":false,"zero":false},"axis":{"values":[0,50,100,150,200,250,300],"title":"Δ Cₘ(fF)","titleY":70,"titlePadding":8,"titleFontSize":16}}}},
    {"data":{"values":[{}]},"mark":{"type":"text","text":"wildtype","fontStyle":"italic","fontSize":15,"font":"Open Sans","color":"black","align":"left","baseline":"middle"},"encoding":{"x":{"datum":4.98,"type":"quantitative","scale":{"domain":[0,9],"nice":false,"zero":false},"axis":null},"y":{"datum":72.2,"type":"quantitative","scale":{"domain":[-2.1,331.2],"nice":false,"zero":false},"axis":{"values":[0,50,100,150,200,250,300],"title":"Δ Cₘ(fF)","titleY":70,"titlePadding":8,"titleFontSize":16}}}},
    {"data":{"values":[{}]},"mark":{"type":"text","text":"+Syt1-wt (n=28)","fontSize":15,"font":"Open Sans","color":"black","align":"left","baseline":"middle"},"encoding":{"x":{"datum":6.55,"type":"quantitative","scale":{"domain":[0,9],"nice":false,"zero":false},"axis":null},"y":{"datum":72.2,"type":"quantitative","scale":{"domain":[-2.1,331.2],"nice":false,"zero":false},"axis":{"values":[0,50,100,150,200,250,300],"title":"Δ Cₘ(fF)","titleY":70,"titlePadding":8,"titleFontSize":16}}}},
    {"data":{"values":[{}]},"mark":{"type":"text","text":"wild type","fontStyle":"italic","fontSize":15,"font":"Open Sans","color":"black","align":"left","baseline":"middle"},"encoding":{"x":{"datum":4.98,"type":"quantitative","scale":{"domain":[0,9],"nice":false,"zero":false},"axis":null},"y":{"datum":29.7,"type":"quantitative","scale":{"domain":[-2.1,331.2],"nice":false,"zero":false},"axis":{"values":[0,50,100,150,200,250,300],"title":"Δ Cₘ(fF)","titleY":70,"titlePadding":8,"titleFontSize":16}}}},
    {"data":{"values":[{}]},"mark":{"type":"text","text":"(n=14)","fontSize":15,"font":"Open Sans","color":"black","align":"left","baseline":"middle"},"encoding":{"x":{"datum":6.72,"type":"quantitative","scale":{"domain":[0,9],"nice":false,"zero":false},"axis":null},"y":{"datum":29.7,"type":"quantitative","scale":{"domain":[-2.1,331.2],"nice":false,"zero":false},"axis":{"values":[0,50,100,150,200,250,300],"title":"Δ Cₘ(fF)","titleY":70,"titlePadding":8,"titleFontSize":16}}}}
   ]},
  {"width":323,"height":159,
   "resolve":{"scale":{"y":"independent"}},
   "layer":[
    {"layer":[
     {"data":{"name":"cur"},"mark":{"type":"area","color":"black","opacity":1,"clip":true},
      "encoding":{"x":{"field":"t","type":"quantitative","scale":{"domain":[0,9],"nice":false,"zero":false},"axis":{"values":[0,2,4,6,8],"title":"Time (s)","titlePadding":6}},"y":{"field":"lo","type":"quantitative","scale":{"domain":[-5.5,84.7],"nice":false,"zero":false},"axis":{"orient":"left","values":[0,20,40,60,80],"title":"Iₐₘₚ (pA)","titleY":65,"titlePadding":12}},"y2":{"field":"top"}}},
     {"data":{"name":"cur"},"mark":{"type":"area","color":"#ee1c24","opacity":1,"clip":true},
      "encoding":{"x":{"field":"t","type":"quantitative","scale":{"domain":[0,9],"nice":false,"zero":false},"axis":{"values":[0,2,4,6,8],"title":"Time (s)","titlePadding":6}},"y":{"field":"lo","type":"quantitative","scale":{"domain":[-5.5,84.7],"nice":false,"zero":false},"axis":{"orient":"left","values":[0,20,40,60,80],"title":"Iₐₘₚ (pA)","titleY":65,"titlePadding":12}},"y2":{"field":"hi"}}},
     {"data":{"name":"curb"},"mark":{"type":"line","color":"#2323e0","strokeWidth":1.3},
      "encoding":{"x":{"field":"t","type":"quantitative","scale":{"domain":[0,9],"nice":false,"zero":false},"axis":{"values":[0,2,4,6,8],"title":"Time (s)","titlePadding":6}},"y":{"field":"v","type":"quantitative","scale":{"domain":[-5.5,84.7],"nice":false,"zero":false},"axis":{"orient":"left","values":[0,20,40,60,80],"title":"Iₐₘₚ (pA)","titleY":65,"titlePadding":12}}}},
     {"data":{"name":"spk"},"mark":{"type":"rule","color":"#2323e0","strokeWidth":1.3},
      "encoding":{"x":{"field":"t","type":"quantitative","scale":{"domain":[0,9],"nice":false,"zero":false},"axis":{"values":[0,2,4,6,8],"title":"Time (s)","titlePadding":6}},"y":{"field":"lo","type":"quantitative","scale":{"domain":[-5.5,84.7],"nice":false,"zero":false},"axis":{"orient":"left","values":[0,20,40,60,80],"title":"Iₐₘₚ (pA)","titleY":65,"titlePadding":12}},"y2":{"field":"hi"}}},
     {"data":{"values":[{}]},"mark":{"type":"rule","color":"black","strokeWidth":1.3},"encoding":{"x":{"datum":2.95,"type":"quantitative","scale":{"domain":[0,9],"nice":false,"zero":false},"axis":{"values":[0,2,4,6,8],"title":"Time (s)","titlePadding":6}},"x2":{"datum":3.4},"y":{"datum":30.2,"type":"quantitative","scale":{"domain":[-5.5,84.7],"nice":false,"zero":false},"axis":{"orient":"left","values":[0,20,40,60,80],"title":"Iₐₘₚ (pA)","titleY":65,"titlePadding":12}},"y2":{"datum":16.6}}},
     {"data":{"values":[{}]},"mark":{"type":"point","shape":"triangle","filled":true,"color":"black","opacity":1,"size":45,"angle":147},"encoding":{"x":{"datum":3.42,"type":"quantitative","scale":{"domain":[0,9],"nice":false,"zero":false},"axis":{"values":[0,2,4,6,8],"title":"Time (s)","titlePadding":6}},"y":{"datum":16.2,"type":"quantitative","scale":{"domain":[-5.5,84.7],"nice":false,"zero":false},"axis":{"orient":"left","values":[0,20,40,60,80],"title":"Iₐₘₚ (pA)","titleY":65,"titlePadding":12}}}},
     {"data":{"values":[{}]},"mark":{"type":"text","text":"UV flash","fontSize":15,"font":"Open Sans","color":"black","align":"center","baseline":"middle"},"encoding":{"x":{"datum":2.03,"type":"quantitative","scale":{"domain":[0,9],"nice":false,"zero":false},"axis":{"values":[0,2,4,6,8],"title":"Time (s)","titlePadding":6}},"y":{"datum":35.9,"type":"quantitative","scale":{"domain":[-5.5,84.7],"nice":false,"zero":false},"axis":{"orient":"left","values":[0,20,40,60,80],"title":"Iₐₘₚ (pA)","titleY":65,"titlePadding":12}}}}
    ]},
    {"layer":[
     {"data":{"name":"q"},"transform":[{"filter":"datum.g === 'Syt1-wt'"}],"mark":{"type":"line","color":"black","strokeWidth":1.5},
      "encoding":{"x":{"field":"t","type":"quantitative","scale":{"domain":[0,9],"nice":false,"zero":false},"axis":{"values":[0,2,4,6,8],"title":"Time (s)","titlePadding":6}},"y":{"field":"q","type":"quantitative","scale":{"domain":[-0.36,28.4],"nice":false,"zero":false},"axis":{"orient":"right","values":[0,5,10,15,20,25],"title":"Qₐₘₚ (pC)","titlePadding":12}}}},
     {"data":{"name":"q"},"transform":[{"filter":"datum.g === 'Syt1-RQ'"}],"mark":{"type":"line","color":"#e8202a","strokeWidth":1.5},
      "encoding":{"x":{"field":"t","type":"quantitative","scale":{"domain":[0,9],"nice":false,"zero":false},"axis":{"values":[0,2,4,6,8],"title":"Time (s)","titlePadding":6}},"y":{"field":"q","type":"quantitative","scale":{"domain":[-0.36,28.4],"nice":false,"zero":false},"axis":{"orient":"right","values":[0,5,10,15,20,25],"title":"Qₐₘₚ (pC)","titlePadding":12}}}},
     {"data":{"name":"q"},"transform":[{"filter":"datum.g === 'WT'"}],"mark":{"type":"line","color":"#2323e0","strokeWidth":1.5},
      "encoding":{"x":{"field":"t","type":"quantitative","scale":{"domain":[0,9],"nice":false,"zero":false},"axis":{"values":[0,2,4,6,8],"title":"Time (s)","titlePadding":6}},"y":{"field":"q","type":"quantitative","scale":{"domain":[-0.36,28.4],"nice":false,"zero":false},"axis":{"orient":"right","values":[0,5,10,15,20,25],"title":"Qₐₘₚ (pC)","titlePadding":12}}}}
    ]}
   ]}
 ]},
 {"spacing":37,"bounds":"flush","vconcat":[
  {"width":120,"height":166,"title":{"text":"B","dx":-56,"offset":-16},
   "data":{"name":"bars"},"transform":[{"filter":"datum.p === 'B'"}],
   "encoding":{"x":{"field":"g","type":"nominal","sort":["WT","Syt1-wt","Syt1-RQ"],"scale":{"paddingInner":0.1,"paddingOuter":0.13,"align":0.8},"axis":{"labels":false,"ticks":false,"title":null}}},
   "layer":[
    {"mark":{"type":"bar","stroke":"black","strokeWidth":1.2},"encoding":{"y":{"field":"m","type":"quantitative","scale":{"domain":[0,35],"nice":false},"axis":{"values":[0,5,10,15,20,25,30,35],"title":"ΔCₘ(fF)IRP","labelFontSize":14,"titlePadding":4}},"color":{"field":"g","type":"nominal","scale":{"domain":["WT","Syt1-wt","Syt1-RQ"],"range":["#2020f0","#000000","#f0191e"]},"legend":null}}},
    {"mark":{"type":"rule","color":"black","strokeWidth":1.5},"encoding":{"y":{"field":"lo","type":"quantitative","scale":{"domain":[0,35],"nice":false},"axis":{"values":[0,5,10,15,20,25,30,35],"title":"ΔCₘ(fF)IRP","labelFontSize":14,"titlePadding":4}},"y2":{"field":"hi"}}},
    {"mark":{"type":"tick","orient":"horizontal","color":"black","size":7,"thickness":1.5},"encoding":{"y":{"field":"hi","type":"quantitative","scale":{"domain":[0,35],"nice":false},"axis":{"values":[0,5,10,15,20,25,30,35],"title":"ΔCₘ(fF)IRP","labelFontSize":14,"titlePadding":4}}}},
    {"mark":{"type":"tick","orient":"horizontal","color":"black","size":7,"thickness":1.5},"encoding":{"y":{"field":"lo","type":"quantitative","scale":{"domain":[0,35],"nice":false},"axis":{"values":[0,5,10,15,20,25,30,35],"title":"ΔCₘ(fF)IRP","labelFontSize":14,"titlePadding":4}}}}
   ]},
  {"width":115,"height":168,"title":{"text":"C","dx":-57,"offset":-10.5},
   "data":{"name":"bars"},"transform":[{"filter":"datum.p === 'C'"}],
   "encoding":{"x":{"field":"g","type":"nominal","sort":["WT","Syt1-wt","Syt1-RQ"],"scale":{"paddingInner":0.11,"paddingOuter":0.11,"align":0.85},"axis":{"labels":false,"ticks":false,"title":null}}},
   "layer":[
    {"mark":{"type":"bar","stroke":"black","strokeWidth":1.2},"encoding":{"y":{"field":"m","type":"quantitative","scale":{"domain":[0,113.2],"nice":false},"axis":{"values":[0,20,40,60,80,100],"title":"ΔCₘ(fF)RRP","labelFontSize":14,"titlePadding":2,"titleY":71}},"color":{"field":"g","type":"nominal","scale":{"domain":["WT","Syt1-wt","Syt1-RQ"],"range":["#2020f0","#000000","#f0191e"]},"legend":null}}},
    {"mark":{"type":"rule","color":"black","strokeWidth":1.5},"encoding":{"y":{"field":"lo","type":"quantitative","scale":{"domain":[0,113.2],"nice":false},"axis":{"values":[0,20,40,60,80,100],"title":"ΔCₘ(fF)RRP","labelFontSize":14,"titlePadding":2,"titleY":71}},"y2":{"field":"hi"}}},
    {"mark":{"type":"tick","orient":"horizontal","color":"black","size":7,"thickness":1.5},"encoding":{"y":{"field":"hi","type":"quantitative","scale":{"domain":[0,113.2],"nice":false},"axis":{"values":[0,20,40,60,80,100],"title":"ΔCₘ(fF)RRP","labelFontSize":14,"titlePadding":2,"titleY":71}}}},
    {"mark":{"type":"tick","orient":"horizontal","color":"black","size":7,"thickness":1.5},"encoding":{"y":{"field":"lo","type":"quantitative","scale":{"domain":[0,113.2],"nice":false},"axis":{"values":[0,20,40,60,80,100],"title":"ΔCₘ(fF)RRP","labelFontSize":14,"titlePadding":2,"titleY":71}}}}
   ]},
  {"width":117,"height":167,"title":{"text":"D","dx":-57,"offset":-18},
   "data":{"name":"bars"},"transform":[{"filter":"datum.p === 'D'"}],
   "encoding":{"x":{"field":"g","type":"nominal","sort":["WT","Syt1-wt","Syt1-RQ"],"scale":{"paddingInner":0.1,"paddingOuter":0.12,"align":0.89},"axis":{"labels":false,"ticks":false,"title":null}}},
   "layer":[
    {"mark":{"type":"bar","stroke":"black","strokeWidth":1.2},"encoding":{"y":{"field":"m","type":"quantitative","scale":{"domain":[0,350],"nice":false},"axis":{"values":[0,50,100,150,200,250,300,350],"title":"ΔCₘ(fF)Total","labelFontSize":14,"titlePadding":2,"titleY":73}},"color":{"field":"g","type":"nominal","scale":{"domain":["WT","Syt1-wt","Syt1-RQ"],"range":["#2020f0","#000000","#f0191e"]},"legend":null}}},
    {"mark":{"type":"rule","color":"black","strokeWidth":1.5},"encoding":{"y":{"field":"lo","type":"quantitative","scale":{"domain":[0,350],"nice":false},"axis":{"values":[0,50,100,150,200,250,300,350],"title":"ΔCₘ(fF)Total","labelFontSize":14,"titlePadding":2,"titleY":73}},"y2":{"field":"hi"}}},
    {"mark":{"type":"tick","orient":"horizontal","color":"black","size":7,"thickness":1.5},"encoding":{"y":{"field":"hi","type":"quantitative","scale":{"domain":[0,350],"nice":false},"axis":{"values":[0,50,100,150,200,250,300,350],"title":"ΔCₘ(fF)Total","labelFontSize":14,"titlePadding":2,"titleY":73}}}},
    {"mark":{"type":"tick","orient":"horizontal","color":"black","size":7,"thickness":1.5},"encoding":{"y":{"field":"lo","type":"quantitative","scale":{"domain":[0,350],"nice":false},"axis":{"values":[0,50,100,150,200,250,300,350],"title":"ΔCₘ(fF)Total","labelFontSize":14,"titlePadding":2,"titleY":73}}}}
   ]}
 ]}
]
}
